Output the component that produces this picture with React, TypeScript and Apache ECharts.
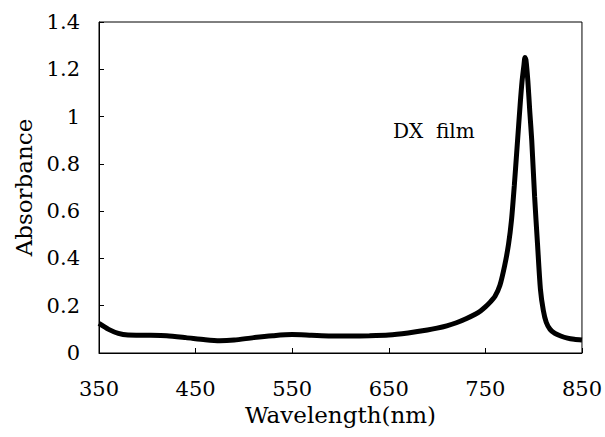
import React, { useEffect, useRef } from "react";
import * as echarts from "echarts";

const wavelengths = [
  350, 360, 370, 380, 400, 420, 440, 460, 475, 490, 510, 530, 550, 570, 590, 610, 630, 650,
  670, 690, 700, 710, 720, 730, 740, 745, 750, 755, 760, 765, 770, 774, 777, 780, 783, 786,
  788, 790, 791, 792, 794, 796, 798, 801, 804, 807, 810, 813, 817, 822, 828, 835, 842, 850,
];
const absorbance = [
  0.125, 0.1, 0.083, 0.076, 0.075, 0.073, 0.065, 0.056, 0.052, 0.055, 0.065, 0.073, 0.078,
  0.075, 0.072, 0.072, 0.073, 0.076, 0.085, 0.097, 0.105, 0.115, 0.128, 0.145, 0.165, 0.178,
  0.195, 0.215, 0.24, 0.285, 0.37, 0.46, 0.56, 0.71, 0.88, 1.05, 1.15, 1.22, 1.25, 1.24,
  1.15, 1.02, 0.9, 0.66, 0.46, 0.27, 0.18, 0.13, 0.1, 0.083, 0.072, 0.063, 0.058, 0.055,
];
const xTicks = [350, 450, 550, 650, 750, 850];
const yTicks = [0, 0.2, 0.4, 0.6, 0.8, 1, 1.2, 1.4];
const seriesLabel = "DX  film";
const xTitle = "Wavelength(nm)";
const yTitle = "Absorbance";

const FONT = "DejaVu Serif";

export default function App() {
  const ref = useRef<HTMLDivElement>(null);
  useEffect(() => {
    if (!ref.current) return;
    const chart = echarts.init(ref.current, null, { renderer: "svg" });
    const data = wavelengths.map((w, i) => [w, absorbance[i]]);
    chart.setOption({
      animation: false,
      backgroundColor: "#fff",
      textStyle: { fontFamily: FONT },
      grid: {
        left: 99,
        right: 22,
        top: 22,
        bottom: 84,
        show: true,
        borderColor: "#000",
        borderWidth: 1,
      },
      xAxis: {
        type: "value",
        min: xTicks[0],
        max: xTicks[xTicks.length - 1],
        interval: 100,
        name: xTitle,
        nameLocation: "middle",
        nameGap: 50,
        nameTextStyle: { fontFamily: FONT, fontSize: 23, color: "#000" },
        axisLine: { show: true, lineStyle: { color: "#000", width: 1 } },
        axisTick: { show: true, inside: true, length: 5, lineStyle: { color: "#000" } },
        splitLine: { show: false },
        axisLabel: {
          fontFamily: FONT,
          fontSize: 21,
          color: "#000",
          margin: 25,
          formatter: (v: number) => (xTicks.includes(v) ? String(v) : ""),
        },
      },
      yAxis: {
        type: "value",
        min: 0,
        max: yTicks[yTicks.length - 1],
        interval: 0.2,
        name: yTitle,
        nameLocation: "middle",
        nameRotate: 90,
        nameGap: 64,
        nameTextStyle: { fontFamily: FONT, fontSize: 23, color: "#000" },
        axisLine: { show: true, lineStyle: { color: "#000", width: 1 } },
        axisTick: { show: true, inside: true, length: 5, lineStyle: { color: "#000" } },
        splitLine: { show: false },
        axisLabel: {
          fontFamily: FONT,
          fontSize: 21,
          color: "#000",
          margin: 19,
          formatter: (v: number) => String(Math.round(v * 10) / 10),
        },
      },
      series: [
        {
          type: "line",
          data,
          smooth: 0.25,
          symbol: "none",
          lineStyle: { color: "#000", width: 5 },
        },
      ],
      graphic: [
        {
          type: "text",
          left: 393,
          top: 121,
          style: { text: seriesLabel, fontFamily: FONT, fontSize: 20, fill: "#000" },
        },
      ],
    });
    return () => chart.dispose();
  }, []);
  return (
    <div
      ref={ref}
      style={{ position: "absolute", left: 0, top: 0, width: 605, height: 437 }}
    />
  );
}
